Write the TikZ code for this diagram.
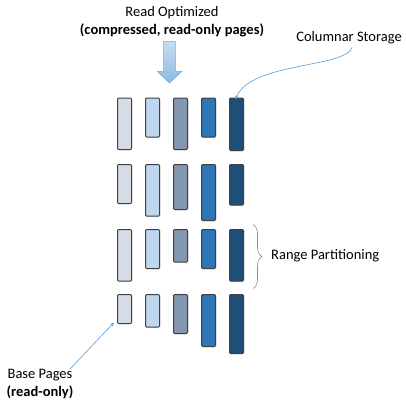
\documentclass[tikz,border=0pt]{standalone}
\usepackage{fontspec}
\setmainfont{Carlito}
\usetikzlibrary{arrows.meta}
\usetikzlibrary{shadows}
\usetikzlibrary{decorations.pathreplacing}
\usetikzlibrary{positioning}

\definecolor{col1}{HTML}{D6DCE5}
\definecolor{col2}{HTML}{BDD7EE}
\definecolor{col3}{HTML}{8497B0}
\definecolor{col4}{HTML}{2E75B6}
\definecolor{col5}{HTML}{1F4E79}
\definecolor{edge}{HTML}{404040}
\definecolor{callout}{HTML}{5B9BD5}

\begin{document}
\begin{tikzpicture}[x=1pt,y=-1pt,
        every node/.style={font=\fontsize{14.5}{18}\selectfont},
        bar/.style={draw=edge,line width=1pt,rounded corners=1pt,minimum width=14pt,
            inner sep=0pt,anchor=north,
            drop shadow={opacity=0.2,shadow xshift=0.8pt,shadow yshift=-0.8pt}},
        label/.style={align=center,inner sep=1pt},
        pointer/.style={draw=callout,line width=0.6pt,-{Stealth[length=4pt,width=3.5pt]}},
  ]
    \useasboundingbox (0,0) rectangle (406,399);

    % pages: row / top / heights of the five columns
    \foreach \r/\t/\hs in {1/97.5/{51.5,39,51.5,39,52.5},
                          2/164/{39,51.5,45,56,40.5},
                          3/229/{51.5,39,32.5,39,51.5},
                          4/294/{29,32.5,39,52,59}} {
        \foreach \h [count=\c] in \hs {
            \node[bar,fill=col\c,minimum height=\h pt] (r\r c\c) at ({124.5+28*(\c-1)},\t) {};
        }
    }

    \node[label] (ro) at (172,21.5) {Read Optimized\\\textbf{(compressed, read-only pages)}};
    % block arrow
    \path[draw=callout!85,line width=0.6pt,line join=miter,
        top color=col2!85!white,bottom color=callout!70!white]
        (163.6,41.3) -- (175.4,41.3) -- (175.4,71.3) -- (181.7,71.3) -- (169.5,83)
        -- (157.3,71.3) -- (163.6,71.3) -- cycle;

    \node[label] (cs) at (349,38) {Columnar Storage};
    \draw[pointer] ([xshift=3pt,yshift=-2pt]cs.south) .. controls (346,68) and (250,62) .. ([xshift=-1pt,yshift=-2pt]r1c5.north);

    \coordinate (bt) at (253,224.5);
    \coordinate (bb) at (253,288.5);
    \draw[callout,line width=0.6pt,decorate,decoration={brace,amplitude=9pt}] (bt) -- (bb);
    \node[label,anchor=west] (rp) at (270,255.5) {Range Partitioning};

    \node[label] (bp) at (40,383.5) {Base Pages\\\textbf{(read-only)}};
    \draw[pointer] ([xshift=-5pt,yshift=-2pt]bp.north east) -- ([xshift=-3pt,yshift=1.5pt]r4c1.south west);
\end{tikzpicture}
\end{document}
